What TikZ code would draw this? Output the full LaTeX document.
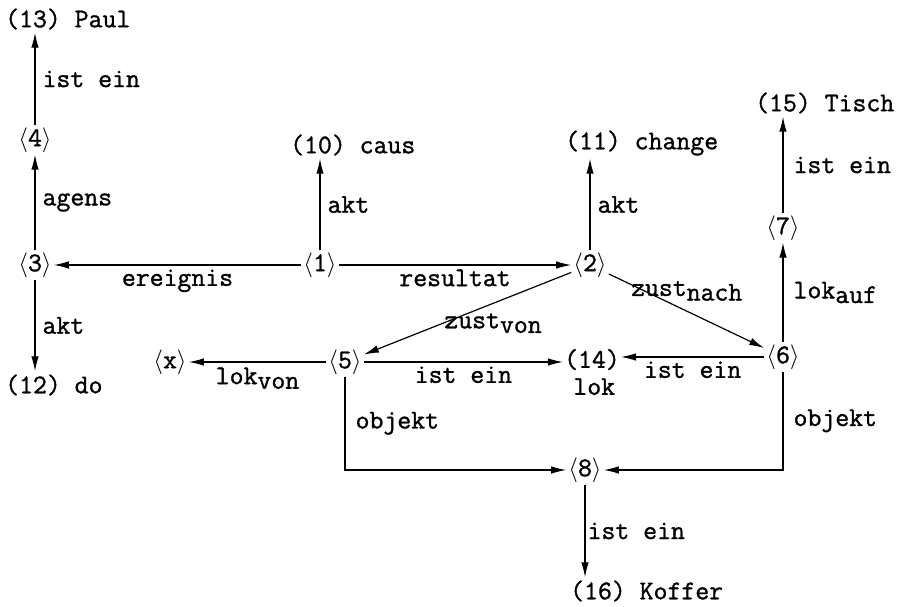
\documentclass[tikz,border=0pt]{standalone}
\usepackage{fontspec}
\setmonofont[FakeBold=1.2]{Latin Modern Mono}
\usetikzlibrary{arrows.meta}
\newcommand{\ab}[1]{$\langle$#1$\rangle$}
\newcommand{\sub}[1]{\raisebox{-0.4ex}{#1}}
\begin{document}
\begin{tikzpicture}[x=1pt,y=-1pt,
  every node/.style={font=\ttfamily\fontsize{27}{31}\selectfont},
  nd/.style={inner sep=2pt},
  txt/.style={inner sep=0pt, anchor=west},
  lbl/.style={inner sep=0pt},
  arr/.style={line width=1.2pt, -{Latex[length=15pt,width=7.5pt]}},
  ln/.style={line width=1.2pt}]
\useasboundingbox (0,0) rectangle (902,607);
% nodes
\node[txt] (n13) at (5,19) {(13) Paul};
\node[nd] (n4) at (35,140) {\ab{4}};
\node[nd] (n3) at (35,265) {\ab{3}};
\node[txt] (n12) at (5,385) {(12) do};
\node[nd] (n1) at (320,265) {\ab{1}};
\node[txt] (n10) at (290,145) {(10) caus};
\node[nd] (n2) at (590,265) {\ab{2}};
\node[txt] (n11) at (565,143) {(11) change};
\node[txt] (n15) at (755,103) {(15) Tisch};
\node[nd] (n7) at (783,228) {\ab{7}};
\node[nd] (n6) at (783,357) {\ab{6}};
\node[nd] (n5) at (345,362) {\ab{5}};
\node[nd] (nx) at (170,362) {\ab{x}};
\node[inner sep=1pt, align=center] (n14) at (592,372) {(14)\\[-4pt]\,lok};
\node[nd] (n8) at (585,470) {\ab{8}};
\node[txt] (n16) at (570,591) {(16) Koffer};
% connectors
\draw[arr] (n4.north) -- node[lbl, right=7pt] {ist ein} ([yshift=-3pt]n4.north |- n13.south);
\draw[arr] (n3.north) -- node[lbl, right=7pt] {agens} (n4.south);
\draw[arr] (n3.south) -- node[lbl, right=7pt] {akt} ([yshift=3pt]n3.south |- n12.north);
\draw[arr] (n1.west) -- node[lbl, below=4pt] {ereignis} (n3.east);
\draw[arr] (n1.north) -- node[lbl, right=7pt] {akt} ([yshift=-3pt]n1.north |- n10.south);
\draw[arr] (n1.east) -- node[lbl, below=4pt] {resultat} (n2.west);
\draw[arr] (n2.north) -- node[lbl, right=7pt] {akt} ([yshift=-3pt]n2.north |- n11.south);
\draw[arr] (n7.north) -- node[lbl, right=10pt] {ist ein} ([yshift=-3pt]n7.north |- n15.south);
\draw[arr] (n6.north) -- node[lbl, right=10pt] {lok\sub{auf}} (n7.south);
\draw[arr] (n2) -- node[lbl, pos=0.45, anchor=south, xshift=8pt, yshift=6pt] {zust\sub{nach}} (n6);
\draw[arr] (n2) -- node[lbl, pos=0.6, anchor=north west, xshift=-3pt, yshift=9pt] {zust\sub{von}} (n5);
\draw[arr] (n5.west) -- node[lbl, below=5pt] {lok\sub{von}} (nx.east);
\draw[arr] (n5.east) -- node[lbl, below=4pt] {ist ein} (n5.east -| n14.west);
\draw[arr] (n6.west) -- node[lbl, below=4pt] {ist ein} (n6.west -| n14.east);
\draw[arr] (n5.south) -- node[lbl, right=10pt] {objekt} (n5.south |- n8) -- (n8.west);
\draw[arr] (n6.south) -- node[lbl, right=10pt] {objekt} (n6.south |- n8) -- (n8.east);
\draw[arr] (n8.south) -- node[lbl, right=2pt] {ist ein} ([yshift=3pt]n8.south |- n16.north);
\end{tikzpicture}
\end{document}
